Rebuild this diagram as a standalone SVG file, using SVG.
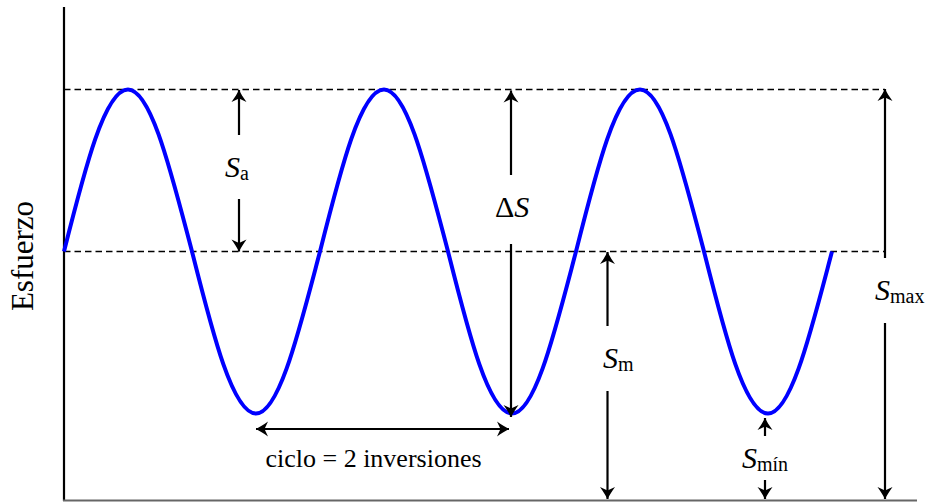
<svg xmlns="http://www.w3.org/2000/svg" width="929" height="502" viewBox="0 0 929 502">
<style>
.axis{stroke:#000;stroke-width:2.2;fill:none}
.baseaxis{stroke:#666;stroke-width:2;fill:none}
.dash{stroke:#000;stroke-width:1.6;stroke-dasharray:6.5,4;fill:none}
.arr{stroke:#000;stroke-width:2.2;fill:none;marker-end:url(#ah)}
.dbl{stroke:#000;stroke-width:2.2;fill:none;marker-start:url(#ah);marker-end:url(#ah)}
.wave{stroke:#0000ff;stroke-width:4;fill:none;stroke-linejoin:round}
text{font-family:"Liberation Serif","Times New Roman",serif;fill:#000}
.lbl{font-size:30px}
.it{font-style:italic}
.sub{font-size:20px}
.cap{font-size:26px}
</style>
<defs>
<marker id="ah" markerUnits="userSpaceOnUse" viewBox="-14 -8 16 16" markerWidth="16" markerHeight="16" refX="0" refY="0" orient="auto-start-reverse">
<path d="M0,0 C-3,-1.5 -8,-4.5 -12,-7.5 L-8.5,0 L-12,7.5 C-8,4.5 -3,1.5 0,0 Z" fill="#000"/>
</marker>
</defs>
<g id="axes">
<line class="axis" x1="64" y1="7" x2="64" y2="501"/>
<line class="baseaxis" x1="63" y1="500.5" x2="917" y2="500.5"/>
</g>
<g id="guides">
<line class="dash" x1="64" y1="89.5" x2="885" y2="89.5"/>
<line class="dash" x1="64" y1="251.5" x2="885" y2="251.5"/>
</g>
<g id="wave">
<path class="wave" d="M64,251.5 c20.87,-82.99 40.84,-162 64,-162 c23.16,0 43.13,82.99 64,162 c20.87,82.99 40.84,162 64,162 c23.16,0 43.13,-82.99 64,-162 c20.87,-82.99 40.84,-162 64,-162 c23.16,0 43.13,82.99 64,162 c20.87,82.99 40.84,162 64,162 c23.16,0 43.13,-82.99 64,-162 c20.87,-82.99 40.84,-162 64,-162 c23.16,0 43.13,82.99 64,162 c20.87,82.99 40.84,162 64,162 c23.16,0 43.13,-82.99 64,-162"/>
</g>
<g id="connectors">
<line class="arr" x1="239" y1="135" x2="239" y2="90"/>
<line class="arr" x1="239" y1="199" x2="239" y2="251.5"/>
<line class="arr" x1="511" y1="175" x2="511" y2="90.5"/>
<line class="arr" x1="511" y1="244" x2="511" y2="417"/>
<line class="arr" x1="607.5" y1="326" x2="607.5" y2="252"/>
<line class="arr" x1="607.5" y1="391" x2="607.5" y2="499"/>
<line class="arr" x1="765" y1="436" x2="765" y2="418"/>
<line class="arr" x1="765" y1="480" x2="765" y2="499"/>
<line class="arr" x1="885" y1="258" x2="885" y2="89"/>
<line class="arr" x1="885" y1="323" x2="885" y2="499"/>
<line class="dbl" x1="256" y1="429" x2="509" y2="429"/>
</g>
<g id="ylabel">
<text class="lbl" font-size="31" transform="translate(33,256) rotate(-90)" text-anchor="middle" style="font-size:31px">Esfuerzo</text>
</g>
<g id="label-sa">
<text class="lbl" x="225" y="177"><tspan class="it">S</tspan><tspan class="sub" dy="3">a</tspan></text>
</g>
<g id="label-ds">
<text class="lbl" x="495" y="217">Δ<tspan class="it">S</tspan></text>
</g>
<g id="label-sm">
<text class="lbl" x="603" y="368"><tspan class="it">S</tspan><tspan class="sub" dy="3">m</tspan></text>
</g>
<g id="label-smin">
<text class="lbl" x="742" y="468"><tspan class="it">S</tspan><tspan class="sub" dy="3">mín</tspan></text>
</g>
<g id="label-smax">
<text class="lbl" x="875" y="300"><tspan class="it">S</tspan><tspan class="sub" dy="3">max</tspan></text>
</g>
<g id="label-cycle">
<text class="cap" x="373.5" y="467" text-anchor="middle">ciclo = 2 inversiones</text>
</g>
</svg>
